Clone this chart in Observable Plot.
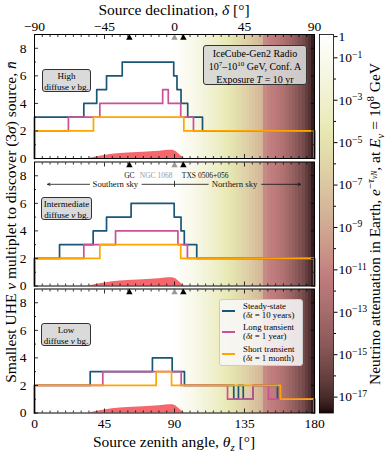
<!DOCTYPE html>
<html><head><meta charset="utf-8">
<script src="https://cdn.jsdelivr.net/npm/d3@7"></script>
<script src="https://cdn.jsdelivr.net/npm/@observablehq/plot@0.6"></script>
<style>
body{margin:0;background:#fff;}
#wrap{position:relative;width:388px;height:453px;overflow:hidden;font-family:"Liberation Serif",serif;color:#000;}
#wrap svg{position:absolute;left:0;top:0;}
.ab{position:absolute;white-space:nowrap;line-height:1;}
.c{transform:translate(-50%,-50%);}
.rot{transform:translate(-50%,-50%) rotate(-90deg);}
sup,sub{font-size:70%;line-height:0;}
.box{position:absolute;background:rgba(214,214,214,0.9);border:1px solid #333;border-radius:3px;text-align:center;box-sizing:border-box;}
</style></head><body><div id="wrap"></div>
<script>
// ---------- data ----------
const xMajor = [0, 45, 90, 135, 180];
const xMinor = [5,10,15,20,25,30,35,40,50,55,60,65,70,75,80,85,95,100,105,110,115,120,125,130,140,145,150,155,160,165,170,175];
const yMajor = [0, 2, 4, 6, 8];
const yMinor = [1, 3, 5, 7];
const cbMajor = [0, -1, -3, -5, -7, -9, -11, -13, -15, -17];
const cbMinor = [-2, -4, -6, -8, -10, -12, -14, -16];

// step functions: zenith breakpoints and multiplet levels
const highSteadyX = [0, 0, 31.7, 40, 46.3, 56.4, 89.5, 91.6, 94.2, 98.5, 108, 180, 180];
const highSteadyY = [0, 3, 4, 5, 6, 7, 6, 5, 4, 3, 2, 2, 0];
const highLongX = [0, 0, 21.8, 42, 82.4, 86, 94, 102.2, 180, 180];
const highLongY = [0, 2, 3, 4, 5, 4, 3, 2, 2, 0];
const highShortX = [0, 0, 37.9, 96, 180, 180];
const highShortY = [0, 2, 3, 2, 2, 0];

const midSteadyX = [0, 0, 16.1, 37.7, 46.3, 62.1, 89.8, 94.2, 96.3, 104.3, 180, 180];
const midSteadyY = [0, 2, 3, 4, 5, 6, 5, 4, 3, 2, 2, 0];
const midLongX = [0, 0, 31.7, 52.1, 92.2, 98.3, 180, 180];
const midLongY = [0, 2, 3, 4, 3, 2, 2, 0];
const midShortX = [0, 0, 42, 94, 180, 180];
const midShortY = [0, 2, 3, 2, 2, 0];

const lowSteadyX = [0, 0, 35.8, 75.8, 88.5, 96.4, 128.1, 131.1, 134.2, 140.5, 156.2, 180, 180];
const lowSteadyY = [0, 2, 3, 4, 3, 2, 1, 2, 1, 2, 1, 1, 0];
const lowLongX = [0, 0, 43.9, 94.3, 124.1, 140.5, 150.4, 180, 180];
const lowLongY = [0, 2, 3, 2, 1, 2, 1, 1, 0];
const lowShortX = [0, 0, 78.2, 88.1, 158.1, 180, 180];
const lowShortY = [0, 2, 3, 2, 1, 1, 0];

// exposure-like red profile
const expTheta = [35, 40, 45, 50, 55, 60, 70, 80, 86, 89, 91, 93, 95, 96.5];
const expHeight = [0, 0.12, 0.22, 0.3, 0.36, 0.4, 0.46, 0.53, 0.6, 0.6, 0.5, 0.3, 0.1, 0];

// Earth attenuation, log10 exp(-tau), per zenith interval
const attFrom = [90,92,94,96,98,100,102,104,106,108,110,112,114,116,118,120,122,124,126,128,130,132,134,136,138,140,142,144,146,147.5,150,152,154,156,158,160,162,164,166,168,170,172,174,176,178];
const attTo   = [92,94,96,98,100,102,104,106,108,110,112,114,116,118,120,122,124,126,128,130,132,134,136,138,140,142,144,146,147.5,150,152,154,156,158,160,162,164,166,168,170,172,174,176,178,180];
const attLog  = [-0.15,-0.35,-0.55,-0.75,-1.0,-1.2,-1.45,-1.7,-1.95,-2.2,-2.45,-2.75,-3.0,-3.3,-3.6,-3.9,-4.2,-4.5,-4.8,-5.1,-5.4,-5.75,-6.1,-6.45,-6.8,-7.15,-7.5,-7.85,-8.2,-10.6,-11.0,-11.3,-11.6,-11.95,-12.3,-12.7,-13.1,-13.5,-14.0,-14.5,-15.0,-15.5,-16.1,-16.7,-17.4];

// sources
const srcName = ["GC", "NGC 1068", "TXS 0506+056"];
const srcTheta = [61.0, 90.0, 95.7];
const srcGrey = [false, true, false];

// ---------- helpers ----------
const W = 388, H = 453;
const panelTop = [34, 161.5, 288.5];
const PH = 124;
const colors = {steady: "#1c5676", long: "#cc4f9a", short: "#ffa500"};
const font = "Liberation Serif";

function pink(t) {
  const x = Math.max(0, Math.min(1, t));
  const hr = Math.min(1, 0.0416 + (1 - 0.0416) * x / 0.365);
  const hg = Math.max(0, Math.min(1, (x - 0.365) / 0.381));
  const hb = Math.max(0, Math.min(1, (x - 0.746) / 0.254));
  const r = Math.sqrt((2 * x + hr) / 3), g = Math.sqrt((2 * x + hg) / 3), b = Math.sqrt((2 * x + hb) / 3);
  return d3.rgb(r * 255, g * 255, b * 255).formatHex();
}
const colorScale = {type: "linear", domain: [-17.75, 0.1], interpolate: pink};

const zip = (xs, ys) => xs.map((x, i) => ({x, y: ys[i]}));
const series = [
  {steady: zip(highSteadyX, highSteadyY), long: zip(highLongX, highLongY), short: zip(highShortX, highShortY)},
  {steady: zip(midSteadyX, midSteadyY), long: zip(midLongX, midLongY), short: zip(midShortX, midShortY)},
  {steady: zip(lowSteadyX, lowSteadyY), long: zip(lowLongX, lowLongY), short: zip(lowShortX, lowShortY)}
];
const bgRows = attFrom.map((a, i) => ({a, b: attTo[i], e: attLog[i]}));
const expRows = expTheta.map((t, i) => ({t, h: expHeight[i]}));
const srcRows = srcName.map((n, i) => ({name: n, theta: srcTheta[i], grey: srcGrey[i]}));
const minus = v => v < 0 ? "\u2212" + Math.abs(v) : String(v);

function frameTicks() {
  const o = {stroke: "black", fill: "none", label: null, strokeWidth: 0.8};
  return [
    Plot.axisX({...o, anchor: "bottom", ticks: xMajor, tickSize: -4}),
    Plot.axisX({...o, anchor: "bottom", ticks: xMinor, tickSize: -2}),
    Plot.axisX({...o, anchor: "top", ticks: xMajor, tickSize: -4}),
    Plot.axisX({...o, anchor: "top", ticks: xMinor, tickSize: -2}),
    Plot.axisY({...o, anchor: "left", ticks: yMajor, tickSize: -4}),
    Plot.axisY({...o, anchor: "left", ticks: yMinor, tickSize: -2}),
    Plot.axisY({...o, anchor: "right", ticks: yMajor, tickSize: -4}),
    Plot.axisY({...o, anchor: "right", ticks: yMinor, tickSize: -2})
  ];
}

function panel(k) {
  const top = panelTop[k];
  const S = series[k];
  const marks = [
    Plot.rect(bgRows, {x1: "a", x2: "b", y1: 0, y2: 9, fill: "e", shapeRendering: "crispEdges"}),
    Plot.areaY(expRows, {x: "t", y: "h", fill: "#f4575c", fillOpacity: 0.9}),
    Plot.line(S.steady, {x: "x", y: "y", stroke: colors.steady, strokeWidth: 1.7, curve: "step-after"}),
    Plot.line(S.long, {x: "x", y: "y", stroke: colors.long, strokeWidth: 1.7, curve: "step-after"}),
    Plot.line(S.short, {x: "x", y: "y", stroke: colors.short, strokeWidth: 1.7, curve: "step-after"}),
    ...frameTicks(),
    Plot.dot(srcRows.filter(d => !d.grey), {x: "theta", frameAnchor: "top", dy: 3.3, symbol: "triangle", r: 2.4, fill: "black", stroke: null}),
    Plot.dot(srcRows.filter(d => d.grey), {x: "theta", frameAnchor: "top", dy: 3.3, symbol: "triangle", r: 2.4, fill: "#999", stroke: null}),
    Plot.axisY({anchor: "left", ticks: yMajor, tickSize: 0, tickPadding: 8, label: null, fontSize: 13.5}),
    Plot.frame({stroke: "black", strokeWidth: 1})
  ];
  if (k === 0) marks.push(Plot.axisX({anchor: "top", ticks: xMajor, tickSize: 0, tickPadding: 4, tickFormat: d => minus(d - 90), label: null, fontSize: 13.5}));
  if (k === 2) marks.push(Plot.axisX({anchor: "bottom", ticks: xMajor, tickSize: 0, tickPadding: 5, label: null, fontSize: 13.5}));
  if (k === 1) {
    const yS = 7.38;
    const lab = {x: "theta", text: "name", frameAnchor: "top", dy: 11, fontSize: 7.5};
    marks.push(
      Plot.text(srcRows.filter(d => d.name === "GC"), {...lab, textAnchor: "middle", fill: "#111"}),
      Plot.text(srcRows.filter(d => d.name === "NGC 1068"), {...lab, textAnchor: "end", dx: -2, fill: "#999"}),
      Plot.text(srcRows.filter(d => d.name === "TXS 0506+056"), {...lab, textAnchor: "start", dx: -1.5, fill: "#111"}),
      Plot.arrow([{a: 35.4, b: 8.4}, {a: 146, b: 171}], {x1: "a", x2: "b", y1: yS, y2: yS, stroke: "#111", strokeWidth: 0.8, headLength: 5, headAngle: 50}),
      Plot.link([{a: 68.8, b: 111.9}], {x1: "a", x2: "b", y1: yS, y2: yS, stroke: "#111", strokeWidth: 0.8}),
      Plot.ruleX([90], {y1: yS - 0.22, y2: yS + 0.22, stroke: "#111", strokeWidth: 0.8}),
      Plot.text([{t: 52, s: "Southern sky"}, {t: 128.6, s: "Northern sky"}], {x: "t", y: yS, text: "s", fontSize: 8.7, fill: "#111"})
    );
  }
  return Plot.plot({
    width: W, height: H, marginLeft: 34, marginRight: W - 314, marginTop: top, marginBottom: H - top - PH,
    x: {domain: [0, 180]}, y: {domain: [0, 9]}, color: colorScale,
    style: {background: "transparent", fontFamily: font, fontSize: "13.5px", color: "black", overflow: "visible"},
    marks
  });
}

const wrap = document.getElementById("wrap");
for (let k = 0; k < 3; k++) {
  const el = panel(k);
  el.style.color = "black";
  wrap.appendChild(el);
}

// colorbar
const ramp = d3.range(-17.75, 0.1, 0.05).map(v => ({lo: v, hi: v + 0.06, mid: v + 0.025}));
const cb = Plot.plot({
  width: W, height: H, marginLeft: 319, marginRight: W - 333, marginTop: 34, marginBottom: H - 412.5,
  x: {domain: [0, 1], axis: null}, y: {domain: [-17.75, 0.1]}, color: colorScale,
  style: {background: "transparent", fontFamily: font, fontSize: "13.5px", color: "black", overflow: "visible"},
  marks: [
    Plot.rect(ramp, {x1: 0, x2: 1, y1: "lo", y2: "hi", fill: "mid", shapeRendering: "crispEdges"}),
    Plot.frame({stroke: "black", strokeWidth: 0.8}),
    Plot.axisY({anchor: "right", ticks: cbMajor, tickSize: 3.5, tickPadding: 1.5, tickFormat: d => d === 0 ? "1" : "10^" + d, label: null, fontSize: 13.5}),
    Plot.axisY({anchor: "right", ticks: cbMinor, tickSize: 2, fill: "none", label: null})
  ]
});
wrap.appendChild(cb);
cb.querySelectorAll('[aria-label="y-axis tick label"] text').forEach(t => {
  const s = t.textContent;
  if (s.startsWith("10^")) {
    const e = s.slice(3).replace("-", "\u2212");
    t.textContent = "10";
    const ts = document.createElementNS("http://www.w3.org/2000/svg", "tspan");
    ts.setAttribute("dy", "-0.45em");
    ts.setAttribute("font-size", "0.72em");
    ts.textContent = e;
    t.appendChild(ts);
  }
});

// ---------- HTML annotations ----------
wrap.insertAdjacentHTML("beforeend", `
<div class="ab c" style="left:174px;top:10px;font-size:15.5px">Source declination, <i>δ</i> [°]</div>
<div class="ab c" style="left:174px;top:442px;font-size:15.5px">Source zenith angle, <i>θ</i><sub><i>z</i></sub> [°]</div>
<div class="ab rot" style="left:11px;top:222px;font-size:15.5px">Smallest UHE <i>ν</i> multiplet to discover (3<i>σ</i>) source, <i>n̄</i></div>
<div class="ab rot" style="left:375px;top:224px;font-size:15.5px">Neutrino attenuation in Earth, <i>e</i><sup>−<i>τ</i><sub><i>νN</i></sub></sup>, at <i>E<sub>ν</sub></i> = 10<sup>8</sup> GeV</div>
<div class="box" style="left:203px;top:45px;width:104px;height:40px;font-size:10px;line-height:13px;padding-top:1px">IceCube-Gen2 Radio<br>10<sup>7</sup>–10<sup>10</sup> GeV, Conf. A<br>Exposure <i>T</i> = 10 yr</div>
<div class="box" style="left:42px;top:69px;width:49px;height:23px;font-size:9px;line-height:10.5px;padding-top:1px">High<br>diffuse <i>ν</i> bg.</div>
<div class="box" style="left:41px;top:197px;width:51px;height:23px;font-size:9px;line-height:10.5px;padding-top:1px">Intermediate<br>diffuse <i>ν</i> bg.</div>
<div class="box" style="left:41px;top:323px;width:50px;height:23px;font-size:9px;line-height:10.5px;padding-top:1px">Low<br>diffuse <i>ν</i> bg.</div>
<div class="ab" style="left:219px;top:299px;width:84px;height:67px;background:rgba(248,248,248,0.88);border:1px solid #ccc;border-radius:3px;box-sizing:border-box"></div>
<div class="ab" style="left:222px;top:309.5px;width:13px;border-top:2px solid ${colors.steady}"></div>
<div class="ab" style="left:222px;top:331px;width:13px;border-top:2px solid ${colors.long}"></div>
<div class="ab" style="left:222px;top:352.5px;width:13px;border-top:2px solid ${colors.short}"></div>
<div class="ab" style="left:243px;top:302px;font-size:8.8px;line-height:9.4px">Steady-state<br>(<i>δt</i> = 10 years)</div>
<div class="ab" style="left:243px;top:323px;font-size:8.8px;line-height:9.4px">Long transient<br>(<i>δt</i> = 1 year)</div>
<div class="ab" style="left:243px;top:344.5px;font-size:8.8px;line-height:9.4px">Short transient<br>(<i>δt</i> = 1 month)</div>
`);
</script></body></html>
